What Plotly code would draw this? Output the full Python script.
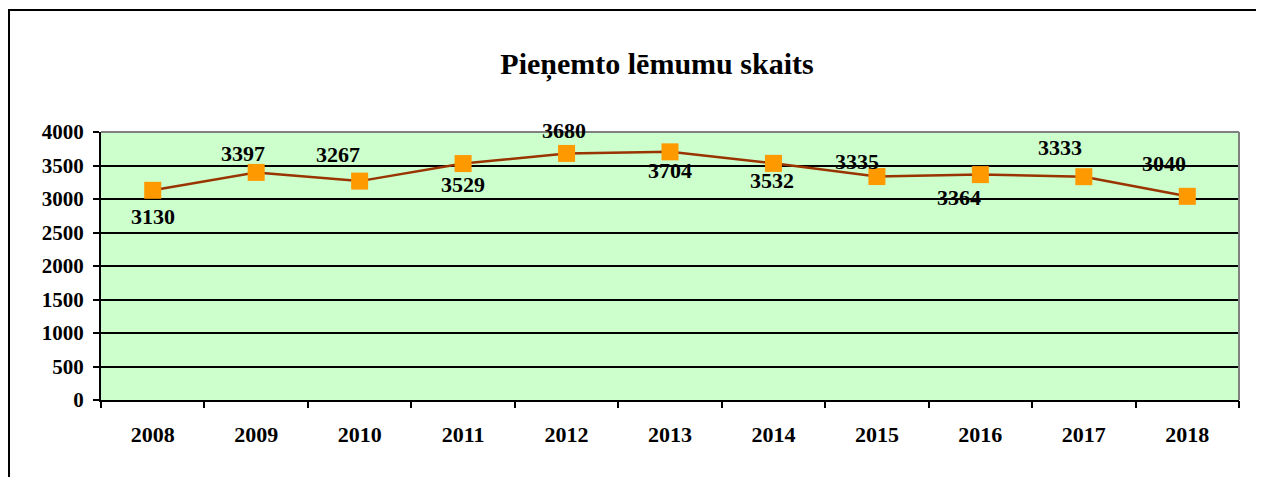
import plotly.graph_objects as go

years = ["2008", "2009", "2010", "2011", "2012", "2013", "2014", "2015", "2016", "2017", "2018"]
values = [3130, 3397, 3267, 3529, 3680, 3704, 3532, 3335, 3364, 3333, 3040]
y_ticks = [0, 500, 1000, 1500, 2000, 2500, 3000, 3500, 4000]
# label offsets (pixels) relative to each point
label_dx = [0, -13, -22, 0, -3, 0, -1, -20, -21, -24, -23]
label_dy = [-26, 19, 27, -21, 23, -19, -17, 15, -23, 29, 33]

OFF = 8  # browser body margin
W, H = 1264 - OFF, 477 - OFF
L, R, T, B = 101 - OFF, 1239 - OFF, 132 - OFF, 400 - OFF
font_fam = "Liberation Serif"


def px(xp):
    return (xp - OFF - L) / (R - L)


def py(yp):
    return (B - (yp - OFF)) / (B - T)


fig = go.Figure()
fig.add_trace(go.Scatter(
    x=list(range(len(years))), y=values, mode="lines+markers",
    line=dict(color="#993300", width=2.5),
    marker=dict(symbol="square", size=17, color="#FF9900", line=dict(width=0)),
    hoverinfo="y", showlegend=False, cliponaxis=False,
))

for i, (v, dx, dy) in enumerate(zip(values, label_dx, label_dy)):
    fig.add_annotation(x=i, y=v, xref="x", yref="y", text="<b>%d</b>" % v, showarrow=False,
                       xshift=dx, yshift=dy,
                       font=dict(family=font_fam, size=22, color="black"))

shapes = [
    dict(type="line", xref="paper", yref="paper", x0=0, x1=1, y0=1, y1=1,
         line=dict(color="#808080", width=2)),
    dict(type="line", xref="paper", yref="paper", x0=1, x1=1, y0=0, y1=1,
         line=dict(color="#808080", width=2)),
    dict(type="line", xref="paper", yref="paper", x0=px(9), x1=px(9), y0=py(10), y1=py(480),
         line=dict(color="black", width=2)),
    dict(type="line", xref="paper", yref="paper", x0=px(8), x1=px(1270), y0=py(10), y1=py(10),
         line=dict(color="black", width=2)),
]

fig.update_layout(
    width=W, height=H,
    margin=dict(l=L, r=W - R, t=T, b=H - B, pad=0),
    paper_bgcolor="white",
    plot_bgcolor="#CCFFCC",
    title=dict(text="<b>Pieņemto lēmumu skaits</b>", x=(657 - OFF) / W, xanchor="center",
               y=1 - (63 - OFF) / H, yanchor="middle",
               font=dict(family=font_fam, size=30, color="black")),
    font=dict(family=font_fam, color="black"),
    shapes=shapes,
    xaxis=dict(
        range=[-0.5, 10.5],
        tickvals=list(range(len(years))),
        ticktext=["<b>%s</b>" % y for y in years],
        showline=True, linecolor="black", linewidth=2,
        ticks="", showgrid=False, zeroline=False,
        tickfont=dict(family=font_fam, size=22, color="black"),
        ticklabelstandoff=14,
    ),
    xaxis2=dict(
        overlaying="x", range=[-0.5, 10.5], anchor="y",
        tickvals=[i - 0.5 for i in range(len(years) + 1)],
        showticklabels=False, side="bottom",
        ticks="outside", ticklen=7, tickwidth=2, tickcolor="black",
        showgrid=False, zeroline=False, showline=False,
    ),
    yaxis=dict(
        range=[0, 4000], tickvals=y_ticks,
        ticktext=["<b>%d</b>" % v for v in y_ticks],
        showline=True, linecolor="black", linewidth=2,
        ticks="outside", ticklen=6, tickwidth=2, tickcolor="black",
        showgrid=True, gridcolor="black", gridwidth=2, zeroline=False,
        tickfont=dict(family=font_fam, size=21, color="black"),
        ticklabelstandoff=5,
    ),
)
# dummy trace to activate the tick-boundary axis
fig.add_trace(go.Scatter(x=[None], y=[None], xaxis="x2", showlegend=False, hoverinfo="skip"))

fig.write_html("out.html")
